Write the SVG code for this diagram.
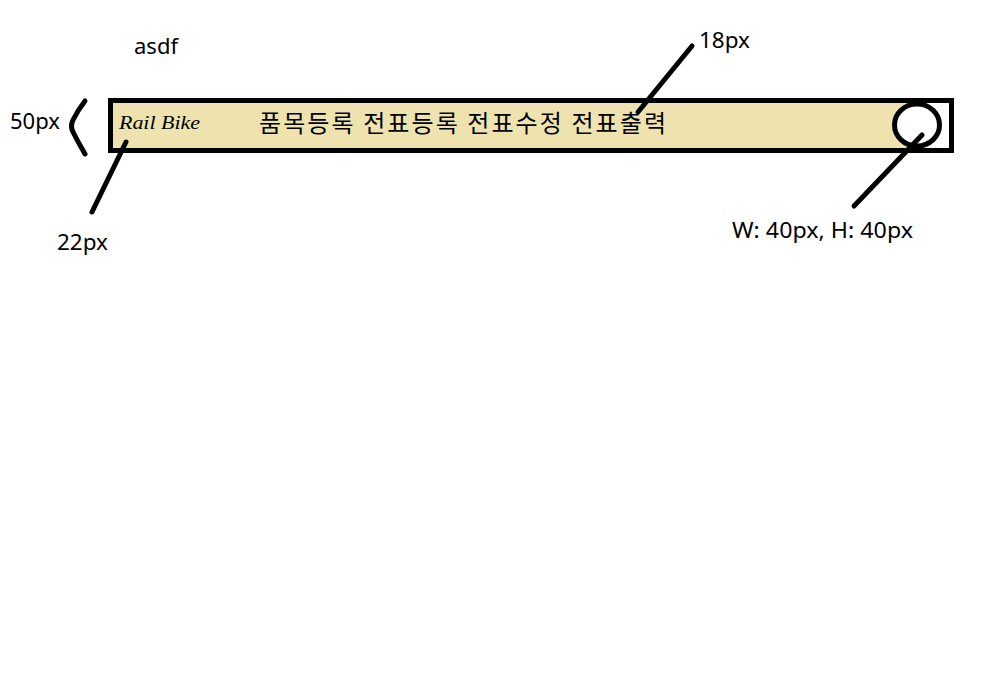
<svg xmlns="http://www.w3.org/2000/svg" width="981" height="700" viewBox="0 0 981 700">
<style>
text{font-family:"Noto Sans","Open Sans","Noto Sans CJK KR",sans-serif;font-size:22px;fill:#000}
.ko{font-family:"Noto Sans CJK KR","Noto Sans",sans-serif;font-size:24px}
.ln{fill:none;stroke:#000;stroke-width:5;stroke-linecap:round;stroke-linejoin:round}
</style>
<rect width="981" height="700" fill="#fff"/>
<g id="header">
<rect x="110.500" y="100.500" width="841" height="50" fill="#fff" stroke="#000" stroke-width="5"/>
<rect x="113" y="103" width="802" height="45" fill="#eee3af"/>
<text x="119" y="129" style="font-family:'Liberation Serif',serif;font-style:italic;font-size:18.5px" textLength="81" lengthAdjust="spacingAndGlyphs">Rail Bike</text>
<text class="ko" x="259" y="132" textLength="407" lengthAdjust="spacing">품목등록 전표등록 전표수정 전표출력</text>
</g>
<g id="avatar"><ellipse cx="917" cy="125" rx="22.500" ry="21" fill="#fff" stroke="#000" stroke-width="5"/></g>
<g id="labels">
<text x="134" y="54" textLength="44" lengthAdjust="spacingAndGlyphs">asdf</text>
<text x="10" y="129" textLength="50" lengthAdjust="spacingAndGlyphs">50px</text>
<text x="57" y="250" textLength="51" lengthAdjust="spacingAndGlyphs">22px</text>
<text x="699" y="48" textLength="51" lengthAdjust="spacingAndGlyphs">18px</text>
<text x="732" y="238" textLength="181" lengthAdjust="spacingAndGlyphs">W: 40px, H: 40px</text>
</g>
<g id="connectors">
<path class="ln" d="M85 101Q78 110 73 120Q70 126 73 132Q78 142 85 154"/>
<path class="ln" d="M126 142L92 212"/>
<path class="ln" d="M692 46L638 112"/>
<path class="ln" d="M922 135L854 206"/>
</g>
</svg>
